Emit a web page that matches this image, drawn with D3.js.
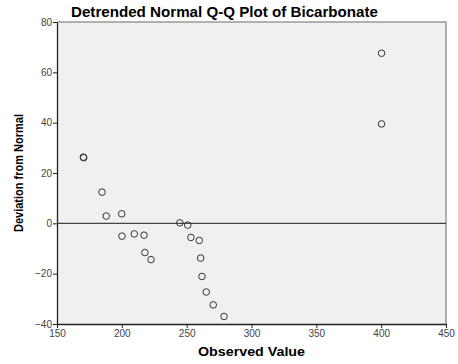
<!DOCTYPE html>
<html>
<head>
<meta charset="utf-8">
<script src="https://cdn.jsdelivr.net/npm/d3@7"></script>
<style>
  body { margin: 0; background: #fff; }
  text { font-family: Arial, "Liberation Sans", sans-serif; }
</style>
</head>
<body>
<div id="chart"></div>
<script>
const observed  = [170.3, 170.6, 184.7, 188, 199.9, 200.1, 209.6, 217.1, 217.8, 222.5,
                   244.7, 250.8, 253.3, 259.7, 260.8, 261.8, 265.1, 270.5, 278.8, 400.3, 400.3];
const deviation = [26.3, 26.1, 12.4, 2.9, 3.8, -5.1, -4.2, -4.7, -11.6, -14.4,
                   0.2, -0.7, -5.6, -6.8, -13.8, -21.1, -27.3, -32.4, -37, 67.6, 39.5];
const xTicks = [150, 200, 250, 300, 350, 400, 450];
const yTicks = [-40, -20, 0, 20, 40, 60, 80];

const width = 458, height = 364;
const margin = { top: 22, left: 57, right: 12, bottom: 40 };

const svg = d3.select("#chart").append("svg")
  .attr("width", width)
  .attr("height", height);

const x = d3.scaleLinear().domain([150, 450]).range([margin.left, width - margin.right]);
const y = d3.scaleLinear().domain([-40, 80]).range([height - margin.bottom, margin.top]);

// plot background
svg.append("rect")
  .attr("x", x(150)).attr("y", y(80))
  .attr("width", x(450) - x(150)).attr("height", y(-40) - y(80))
  .attr("fill", "#f0f0f0");

// top and right frame
svg.append("path")
  .attr("d", `M${x(150)},${y(80)}H${x(450)}V${y(-40)}`)
  .attr("fill", "none").attr("stroke", "#999").attr("stroke-width", 1.5);

// axes
const xAxis = svg.append("g")
  .attr("transform", `translate(0,${y(-40)})`)
  .call(d3.axisBottom(x).tickValues(xTicks).tickSize(4).tickSizeOuter(0));
const yAxis = svg.append("g")
  .attr("transform", `translate(${x(150)},0)`)
  .call(d3.axisLeft(y).tickValues(yTicks).tickSize(4).tickSizeOuter(0));

[xAxis, yAxis].forEach(a => {
  a.select(".domain").attr("stroke", "#222").attr("stroke-width", 1.3);
  a.selectAll(".tick line").attr("stroke", "#222");
  a.selectAll("text").attr("font-size", "10px").attr("fill", "#444")
    .attr("font-family", "Arial, 'Liberation Sans', sans-serif");
});
xAxis.selectAll("text").attr("y", 6);
yAxis.selectAll("text").attr("x", -5);

// zero reference line
svg.append("line")
  .attr("x1", x(150)).attr("x2", x(450))
  .attr("y1", y(0)).attr("y2", y(0))
  .attr("stroke", "#444").attr("stroke-width", 1.2);

// points
svg.append("g").selectAll("circle")
  .data(observed.map((v, i) => ({ obs: v, dev: deviation[i] })))
  .enter().append("circle")
  .attr("cx", d => x(d.obs))
  .attr("cy", d => y(d.dev))
  .attr("r", 3.3)
  .attr("fill", "none")
  .attr("stroke", "#333")
  .attr("stroke-width", 1);

// title and labels
svg.append("text")
  .attr("x", 224.5).attr("y", 17)
  .attr("text-anchor", "middle")
  .attr("font-size", "14px").attr("font-weight", "bold")
  .attr("textLength", 307).attr("lengthAdjust", "spacingAndGlyphs")
  .text("Detrended Normal Q-Q Plot of Bicarbonate");

svg.append("text")
  .attr("x", 251.5).attr("y", 356)
  .attr("text-anchor", "middle")
  .attr("font-size", "12px").attr("font-weight", "bold")
  .attr("textLength", 107).attr("lengthAdjust", "spacingAndGlyphs")
  .text("Observed Value");

svg.append("text")
  .attr("transform", `translate(22.5,173) rotate(-90)`)
  .attr("text-anchor", "middle")
  .attr("font-size", "13px").attr("font-weight", "bold")
  .attr("textLength", 118).attr("lengthAdjust", "spacingAndGlyphs")
  .text("Deviation from Normal");
</script>
</body>
</html>
